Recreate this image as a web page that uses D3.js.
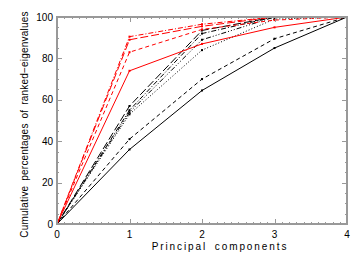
<!DOCTYPE html>
<html lang="en">
<head>
<meta charset="UTF-8">
<title>Cumulative eigenvalues</title>
<script src="https://cdn.jsdelivr.net/npm/d3@7"></script>
<style>
  body { margin: 0; background: #fff; }
  text { font-family: "Liberation Sans", sans-serif; fill: #000; }
</style>
</head>
<body>
<svg class="root"></svg>
<script>
    // principal component index
    const components = [0, 1, 2, 3, 4];

    // cumulative percentages, one array per curve
    const redSolid     = [0, 74, 87, 95, 100];
    const redDashed    = [0, 83, 94, 98.5, 100];
    const redDashDot   = [0, 90.5, 96.5, 100, 100];
    const redLongDash  = [0, 89, 95.5, 100, 100];
    const blkSolid     = [0, 36, 64.5, 85, 100];
    const blkDashed    = [0, 41, 70, 89.5, 100];
    const blkDashDot   = [0, 55, 92, 100, 100];
    const blkDash3Dot  = [0, 54, 89, 100, 100];
    const blkDotted    = [0, 53, 84, 99, 100];
    const blkLongDash  = [0, 57, 93.5, 100, 100];

    const xTicks = [0, 1, 2, 3, 4];
    const yTicks = [0, 20, 40, 60, 80, 100];

    const series = [
        {values: blkSolid,    color: "#000", dash: null},
        {values: blkDashed,   color: "#000", dash: "4,3"},
        {values: blkDotted,   color: "#000", dash: "1,2"},
        {values: blkDash3Dot, color: "#000", dash: "5,2,1,2,1,2,1,2"},
        {values: blkDashDot,  color: "#000", dash: "5,2,1,2"},
        {values: blkLongDash, color: "#000", dash: "8,3"},
        {values: redSolid,    color: "#f00", dash: null},
        {values: redDashed,   color: "#f00", dash: "4,3"},
        {values: redLongDash, color: "#f00", dash: "8,3"},
        {values: redDashDot,  color: "#f00", dash: "5,2,1,2"}
    ];

    const width = 364, height = 260;
    const margin = {top: 17, right: 17, bottom: 36, left: 57};
    const axisColor = "#999";

    const svg = d3.select(".root")
        .attr("width", width)
        .attr("height", height);

    const x = d3.scaleLinear().domain([0, 4]).range([margin.left, width - margin.right]);
    const y = d3.scaleLinear().domain([0, 100]).range([height - margin.bottom, margin.top]);

    const minorX = d3.range(0, 4.0001, 0.1);
    const minorY = d3.range(0, 100.0001, 5);

    // data curves
    const line = d3.line()
        .x((d, i) => x(components[i]))
        .y(d => y(d));

    const g = svg.append("g");
    series.forEach(s => {
        g.append("path")
            .attr("d", line(s.values))
            .attr("fill", "none")
            .attr("stroke", s.color)
            .attr("stroke-width", 1)
            .attr("stroke-dasharray", s.dash);
        g.selectAll(null)
            .data(s.values)
            .join("rect")
            .attr("x", (d, i) => x(components[i]) - 1)
            .attr("y", d => y(d) - 1)
            .attr("width", 2)
            .attr("height", 2)
            .attr("fill", s.color);
    });

    // IDL style box with inward ticks on all four sides
    const ax = svg.append("g").attr("stroke", axisColor).attr("shape-rendering", "crispEdges");

    const tickBottom = d3.axisBottom(x).tickValues(minorX).tickSize(-2).tickFormat("");
    const tickTop = d3.axisTop(x).tickValues(minorX).tickSize(-2).tickFormat("");
    const tickLeft = d3.axisLeft(y).tickValues(minorY).tickSize(-2).tickFormat("");
    const tickRight = d3.axisRight(y).tickValues(minorY).tickSize(-2).tickFormat("");

    ax.append("g").attr("transform", `translate(0,${y(0)})`).call(tickBottom);
    ax.append("g").attr("transform", `translate(0,${y(100)})`).call(tickTop);
    ax.append("g").attr("transform", `translate(${x(0)},0)`).call(tickLeft);
    ax.append("g").attr("transform", `translate(${x(4)},0)`).call(tickRight);

    ax.append("g").attr("transform", `translate(0,${y(0)})`)
        .call(d3.axisBottom(x).tickValues(xTicks).tickSize(-5).tickFormat(""));
    ax.append("g").attr("transform", `translate(0,${y(100)})`)
        .call(d3.axisTop(x).tickValues(xTicks).tickSize(-5).tickFormat(""));
    ax.append("g").attr("transform", `translate(${x(0)},0)`)
        .call(d3.axisLeft(y).tickValues(yTicks).tickSize(-5).tickFormat(""));
    ax.append("g").attr("transform", `translate(${x(4)},0)`)
        .call(d3.axisRight(y).tickValues(yTicks).tickSize(-5).tickFormat(""));

    ax.selectAll(".domain").remove();
    ax.selectAll(".tick line").attr("stroke", axisColor);

    ax.append("rect")
        .attr("x", x(0)).attr("y", y(100))
        .attr("width", x(4) - x(0)).attr("height", y(0) - y(100))
        .attr("fill", "none")
        .attr("stroke", axisColor)
        .attr("stroke-width", 2);

    // tick labels
    svg.append("g").selectAll("text")
        .data(xTicks)
        .join("text")
        .attr("x", d => x(d))
        .attr("y", y(0) + 14)
        .attr("text-anchor", "middle")
        .style("font-size", "10px")
        .text(d => d);

    svg.append("g").selectAll("text")
        .data(yTicks)
        .join("text")
        .attr("x", x(0) - 4)
        .attr("y", d => y(d) + 3.5)
        .attr("text-anchor", "end")
        .style("font-size", "10px")
        .text(d => d);

    // axis titles
    svg.append("text")
        .attr("x", 220)
        .attr("y", height - 10)
        .attr("text-anchor", "middle")
        .style("font-size", "10px")
        .style("letter-spacing", "1.9px")
        .style("word-spacing", "3px")
        .text("Principal components");

    svg.append("text")
        .attr("transform", `translate(${28},${(y(0) + y(100)) / 2 + 4}) rotate(-90)`)
        .attr("text-anchor", "middle")
        .style("font-size", "10px")
        .style("letter-spacing", "0.2px")
        .style("word-spacing", "2px")
        .text("Cumulative percentages of ranked\u2212eigenvalues");
</script>
</body>
</html>
